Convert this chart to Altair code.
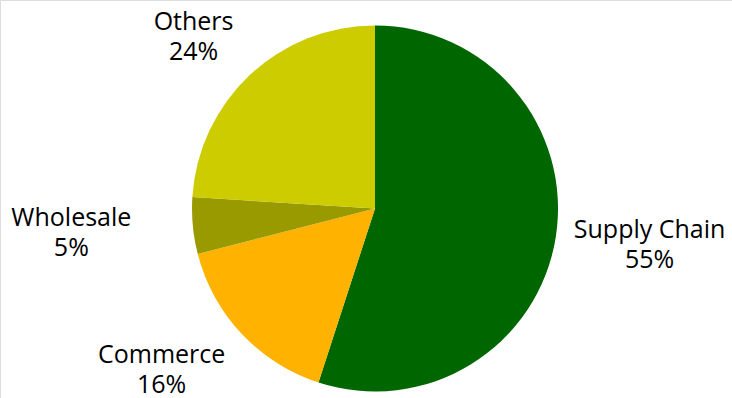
import altair as alt
import pandas as pd

categories = ["Supply Chain", "Commerce", "Wholesale", "Others"]
shares = [55, 16, 5, 24]
colors = ["#006600", "#FFB300", "#999900", "#CCCC00"]

df = pd.DataFrame({"category": categories, "share": shares, "idx": list(range(len(categories)))})

CX, CY, R = 375, 208.5, 183
LH = 30
# label placement: (radius, dx, dy) per label, layout only
label_place = {
    "Supply Chain": (277, 1, -7),
    "Commerce": (268, -18, -22),
    "Wholesale": (305, 0, -4),
    "Others": (249, -11, 10),
}

theta_scale = alt.Scale(domain=[0, 100])

base = (
    alt.Chart(df)
    .transform_window(cum="sum(share)", sort=[alt.SortField("idx")], frame=[None, 0])
    .transform_calculate(start="datum.cum - datum.share", mid="datum.cum - datum.share / 2")
)

pie = base.mark_arc(radius=R, stroke=None).encode(
    theta=alt.Theta("start:Q", scale=theta_scale),
    theta2="cum:Q",
    x=alt.value(CX),
    y=alt.value(CY),
    color=alt.Color("category:N", scale=alt.Scale(domain=categories, range=colors), legend=None),
)

layers = [pie]
for cat in categories:
    r, ddx, ddy = label_place[cat]
    for expr, off in (("datum.category", -LH / 2), ("datum.share + '%'", LH / 2)):
        layers.append(
            base.transform_filter(f"datum.category == '{cat}'")
            .transform_calculate(label=expr)
            .mark_text(
                radius=r,
                font="Open Sans",
                fontSize=25,
                color="#000000",
                align="center",
                baseline="middle",
                dx=ddx,
                dy=ddy + off,
            )
            .encode(
                theta=alt.Theta("mid:Q", scale=theta_scale),
                x=alt.value(CX),
                y=alt.value(CY),
                text="label:N",
            )
        )

chart = (
    alt.layer(*layers)
    .properties(width=732, height=398, autosize=alt.AutoSizeParams(type="none"), padding=0)
    .configure_view(stroke=None)
    .configure(background="white")
)

chart.save("out.html", embed_options={"renderer": "svg", "actions": False})
